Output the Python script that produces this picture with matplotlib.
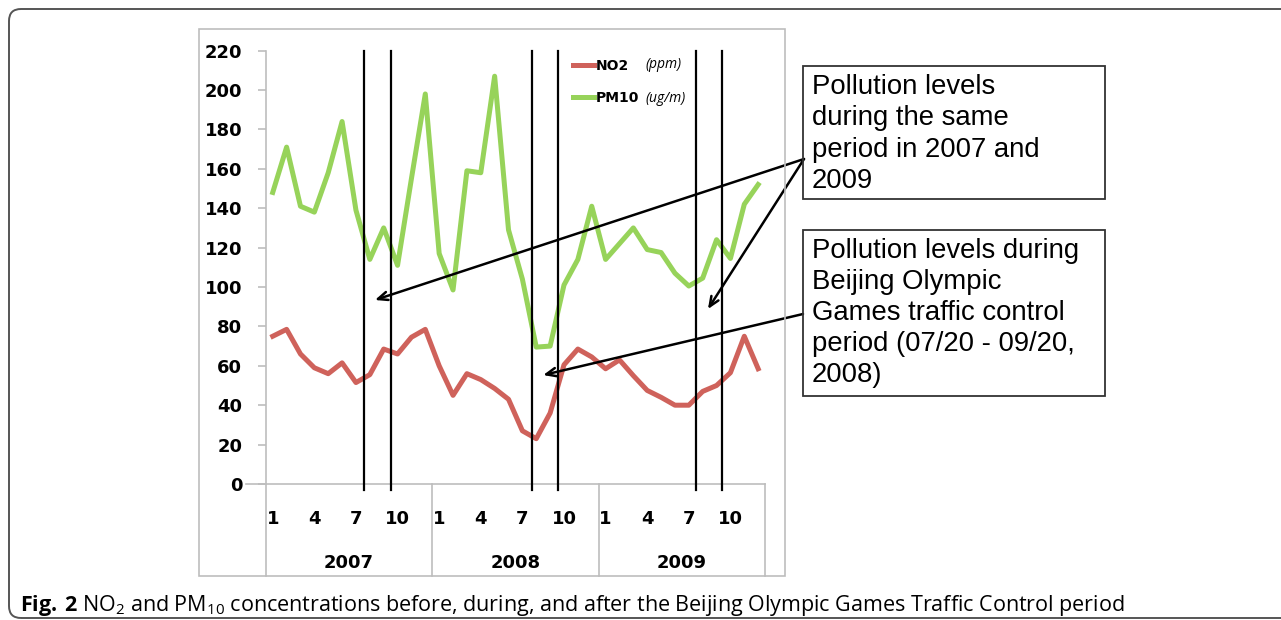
import numpy as np
import matplotlib
matplotlib.use("Agg")
import matplotlib.pyplot as plt
from matplotlib.patches import Rectangle, FancyBboxPatch

plt.rcParams['mathtext.fontset'] = 'custom'
plt.rcParams['mathtext.rm'] = 'Open Sans'
plt.rcParams['mathtext.bf'] = 'Open Sans:bold'

# monthly values, Jan 2007 .. Dec 2009
no2 = [75, 78.5, 66, 59, 56, 61.5, 51.5, 55.5, 68.5, 66, 74.5, 78.5,
       60, 45, 56, 53, 48.5, 43, 27, 23, 36, 60.5, 68.5, 64.5,
       58.5, 63, 55, 47.5, 44, 40, 40, 47, 50, 56.5, 75, 58.5]
pm10 = [148, 171, 141, 138, 158, 184, 139, 114, 130, 111, 155, 198,
        117, 98.5, 159, 158, 207, 129, 104, 69.5, 70, 101, 114, 141,
        114, 122, 130, 119, 117.5, 107, 100.5, 104.5, 124, 114.5, 142, 152]
years = ['2007', '2008', '2009']
month_ticks = [1, 4, 7, 10]
y_ticks = list(range(0, 221, 20))
# traffic control period edges, in months counted from Jan 2007
ctrl_start = [7.1, 19.2, 31.0]
ctrl_end = [9.0, 21.1, 32.9]

W, H = 1281, 620
def fx(px):
    return px / W
def fy(py):
    return 1 - py / H

red = '#CF625B'
green = '#97D35A'
grey = '#BDBDBD'

fig = plt.figure(figsize=(W / 100, H / 100), dpi=100)

# outer frame and chart frame
fig.add_artist(FancyBboxPatch((0.09, 0.02), 13.0, 6.09,
                              boxstyle='round,pad=0,rounding_size=0.12',
                              transform=fig.dpi_scale_trans, fill=False,
                              ec='#555555', lw=1.4))
fig.add_artist(Rectangle((1.99, 0.44), 5.86, 5.47, transform=fig.dpi_scale_trans,
                         fill=False, ec=grey, lw=1.2))

ax = fig.add_axes([fx(265.8), fy(484), (765.1 - 265.8) / W, (484 - 50.6) / H])
x = np.arange(len(no2)) + 0.5
l1, = ax.plot(x, no2, color=red, lw=3.6, zorder=3)
l2, = ax.plot(x, pm10, color=green, lw=3.6, zorder=3)

for s in ctrl_start + ctrl_end:
    ax.axvline(s, ymin=-0.014, ymax=1, color='black', lw=1.6, clip_on=False, zorder=4)

ax.set_xlim(0, 36)
ax.set_ylim(0, 220)
ax.set_yticks(y_ticks, labels=[str(v) for v in y_ticks], fontweight='bold')
ax.tick_params(axis='y', length=6, width=1.2, color=grey, pad=11, labelsize=13)
xt = [m - 0.5 + 12 * k for k in range(len(years)) for m in month_ticks]
ax.set_xticks(xt, labels=[str(m) for k in range(len(years)) for m in month_ticks],
              fontweight='bold')
ax.tick_params(axis='x', length=0, pad=18.5, labelsize=13)
for sp in ['top', 'right', 'bottom']:
    ax.spines[sp].set_visible(False)
ax.spines['left'].set_color(grey)
ax.spines['left'].set_linewidth(1.2)

xtr = ax.get_xaxis_transform()
ax.plot([-1.45, 36], [0, 0], color=grey, lw=1.2, clip_on=False, zorder=2)
for k in range(len(years) + 1):
    ax.plot([12 * k, 12 * k], [0, -0.2123], transform=xtr, color=grey, lw=1.2,
            clip_on=False)
for k, yr in enumerate(years):
    ax.text(12 * k + 6, -0.183, yr, transform=xtr, ha='center', va='center',
            fontweight='bold', fontsize=13)

# legend
ax.legend([l1, l2], ['NO2', 'PM10'], loc='upper left',
          bbox_to_anchor=(fx(573), fy(59)), bbox_transform=fig.transFigure,
          frameon=False, prop={'weight': 'bold', 'size': 10},
          handlelength=1.5, handletextpad=0.15, labelspacing=1.3,
          borderpad=0, borderaxespad=0)
fig.text(fx(645), fy(65), '(ppm)', style='italic', fontsize=10,
         family='Open Sans', va='center')
fig.text(fx(645), fy(98), '(ug/m)', style='italic', fontsize=10,
         family='Open Sans', va='center')

# annotation boxes
box_font = 'Liberation Sans'
fig.add_artist(Rectangle((fx(803), fy(199)), (1105 - 803) / W, (199 - 66) / H,
                         transform=fig.transFigure, fill=False, ec='#333333', lw=1.3))
fig.add_artist(Rectangle((fx(803), fy(396)), (1105 - 803) / W, (396 - 230) / H,
                         transform=fig.transFigure, fill=False, ec='#333333', lw=1.3))
fig.text(fx(812), fy(74), 'Pollution levels\nduring the same\nperiod in 2007 and\n2009',
         family=box_font, fontsize=19.8, va='top', linespacing=1.27)
fig.text(fx(812), fy(238),
         'Pollution levels during\nBeijing Olympic\nGames traffic control\nperiod (07/20 - 09/20,\n2008)',
         family=box_font, fontsize=19.8, va='top', linespacing=1.25)

arrow = dict(arrowstyle='->,head_length=0.7,head_width=0.3', lw=1.8, color='black',
             shrinkA=0, shrinkB=0)
ax.annotate('', xy=(7.87, 93.4), xytext=(804, H - 159), textcoords='figure pixels',
            arrowprops=arrow, annotation_clip=False)
ax.annotate('', xy=(31.88, 88.8), xytext=(804, H - 159), textcoords='figure pixels',
            arrowprops=arrow, annotation_clip=False)
ax.annotate('', xy=(20.0, 55.3), xytext=(803, H - 314), textcoords='figure pixels',
            arrowprops=arrow, annotation_clip=False)

fig.text(fx(20), fy(605),
         r'$\mathbf{Fig.\,2}$ NO$_2$ and PM$_{10}$ concentrations before, during, and after '
         'the Beijing Olympic Games Traffic Control period',
         family='Open Sans', fontsize=15.5, va='center')

fig.savefig('out.png', dpi=100)
